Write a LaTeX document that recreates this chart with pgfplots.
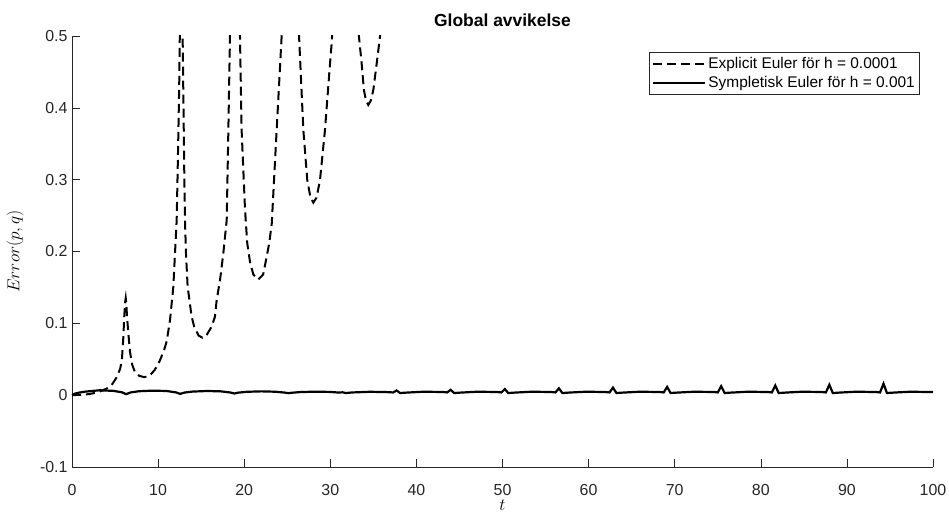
\documentclass[border=0pt]{standalone}
\usepackage{pgfplots}
\pgfplotsset{compat=1.18}
\usepackage{fontspec}
\setmainfont{Liberation Sans}
\definecolor{axgray}{rgb}{0.15,0.15,0.15}
\begin{document}
\begin{tikzpicture}
\begin{axis}[name=ax, scale only axis, width=861bp, height=431bp,
 xmin=0, xmax=100, ymin=-0.1, ymax=0.5,
 axis lines=left, axis line style={-, draw=axgray, line width=0.6bp},
 xtick={0,10,20,30,40,50,60,70,80,90,100},
 xticklabels={0,10,20,30,40,50,60,70,80,90,100},
 ytick={-0.1,0,0.1,0.2,0.3,0.4,0.5},
 yticklabels={-0.1,0,0.1,0.2,0.3,0.4,0.5},
 /pgf/number format/assume math mode=true,
 tick align=inside, major tick length=8bp,
 tick style={draw=axgray, line width=0.6bp},
 ticklabel style={font=\fontsize{16}{19}\selectfont, text=axgray},
 xticklabel style={inner sep=1bp, yshift=-16bp},
 yticklabel style={xshift=-1bp},
 title={Global avvikelse},
 title style={font=\fontsize{17.5}{21}\selectfont\bfseries, yshift=0bp},
 xlabel={$t$}, ylabel={$Error(p,q)$},
 label style={font=\fontsize{19}{22}\selectfont},
 xlabel style={at={(axis description cs:0.5,0)}, anchor=center, inner sep=0bp, yshift=-38bp},
 ylabel style={at={(axis description cs:-0.066,0.5)}, anchor=center, inner sep=0bp},
 legend style={at={(0.985,0.962)}, anchor=north east, draw=axgray, line width=0.6bp,
   font=\fontsize{15.5}{18.5}\selectfont, cells={anchor=west}, inner sep=3bp, row sep=2bp},
 legend image code/.code={\draw[#1] (0bp,0bp) -- (52bp,0bp);},
]
\addplot[black, line width=2bp, dash pattern=on 9bp off 5bp] coordinates {
(0,0) (1,0.0005) (2,0.0015) (3,0.004) (4,0.009) (4.6,0.014) (5.2,0.025) (5.6,0.037)
(5.8,0.05) (5.96,0.08) (6.07,0.11) (6.18,0.13) (6.24,0.135) (6.3,0.128) (6.4,0.108)
(6.55,0.085) (6.74,0.06) (7.0,0.042) (7.32,0.032) (7.8,0.027) (8.4,0.025) (9.0,0.027)
(9.6,0.035) (10.2,0.048) (10.7,0.063) (11.0,0.075) (11.38,0.104) (11.77,0.151)
(11.96,0.197) (12.16,0.244) (12.3,0.33) (12.45,0.43) (12.52,0.5) (12.68,1.0) (12.85,0.5)
(12.95,0.4) (13.05,0.3) (13.12,0.244) (13.24,0.197) (13.43,0.151) (13.9,0.109)
(14.2,0.095) (14.7,0.083) (15.15,0.080) (15.6,0.083) (16.2,0.095) (16.6,0.109)
(16.8,0.132) (17.19,0.160) (17.57,0.197) (17.97,0.244) (18.16,0.369) (18.35,0.5)
(18.9,1.2) (19.51,0.5) (19.7,0.369) (20.09,0.26) (20.2,0.239) (20.36,0.211)
(20.67,0.186) (21.06,0.168) (21.64,0.161) (22.2,0.168) (22.5,0.186) (22.9,0.211)
(23.2,0.239) (23.77,0.369) (24.35,0.5) (25.35,1.5) (26.37,0.5) (26.87,0.369)
(27.33,0.299) (27.7,0.275) (28.03,0.268) (28.4,0.275) (28.8,0.299) (29.38,0.369)
(29.97,0.462) (30.16,0.49) (30.3,0.52) (31.7,2.0) (33.2,0.52) (33.33,0.499)
(33.64,0.462) (33.9,0.425) (34.15,0.41) (34.41,0.404) (34.7,0.41) (35.0,0.425)
(35.39,0.462) (35.77,0.499) (36.0,0.55)
};
\addlegendentry{Explicit Euler för h = 0.0001}
\addplot[black, line width=2.2bp] coordinates {
(0,0) (0.3,0.002) (0.8,0.0035) (1.6,0.005) (3.2,0.0068) (4.8,0.006) (5.8,0.004)
(6.28,0.0014) (6.8,0.0038) (7.8,0.0055) (9.4,0.0063) (11,0.0058) (12.1,0.0038)
(12.57,0.0018) (13.05,0.0036) (14,0.005) (15.7,0.0058) (17.3,0.0053) (18.4,0.0037)
(18.85,0.0023) (19.3,0.0035) (20.3,0.0047) (22,0.0053) (23.6,0.0048) (24.7,0.0036)
(25.13,0.0028) (25.55,0.0034) (26.5,0.0043) (28.3,0.0049) (30,0.0045) (31.0,0.0036)
(31.42,0.0040) (31.8,0.003) (32.6,0.0038) (34.6,0.0047) (36.5,0.0043)
(37.3,0.0038) (37.70,0.0065) (38.1,0.003) (38.9,0.0036) (40.8,0.0048) (43.1,0.0044)
(43.58,0.0038) (43.98,0.0075) (44.38,0.003) (45.18,0.0036) (47.08,0.0048) (49.38,0.0044)
(49.87,0.0038) (50.27,0.0085) (50.67,0.003) (51.47,0.0036) (53.37,0.0048) (55.67,0.0044)
(56.15,0.0038) (56.55,0.0095) (56.95,0.003) (57.75,0.0036) (59.65,0.0048) (61.95,0.0044)
(62.43,0.0038) (62.83,0.0105) (63.23,0.003) (64.03,0.0036) (65.93,0.0048) (68.23,0.0044)
(68.72,0.0038) (69.12,0.0115) (69.52,0.003) (70.32,0.0036) (72.22,0.0048) (74.52,0.0044)
(75.00,0.0038) (75.40,0.0125) (75.80,0.003) (76.60,0.0036) (78.50,0.0048) (80.80,0.0044)
(81.28,0.0038) (81.68,0.0135) (82.08,0.003) (82.88,0.0036) (84.78,0.0048) (87.08,0.0044)
(87.56,0.0038) (87.96,0.0145) (88.36,0.003) (89.16,0.0036) (91.06,0.0048) (93.36,0.0044)
(93.85,0.0038) (94.25,0.016) (94.65,0.003) (95.45,0.0036) (97.35,0.0048) (100,0.0043)
};
\addlegendentry{Sympletisk Euler för h = 0.001}
\end{axis}
\pgfresetboundingbox
\path ([xshift=-72bp,yshift=-45bp]ax.south west) rectangle ([xshift=16bp,yshift=36bp]ax.north east);
\end{tikzpicture}
\end{document}
